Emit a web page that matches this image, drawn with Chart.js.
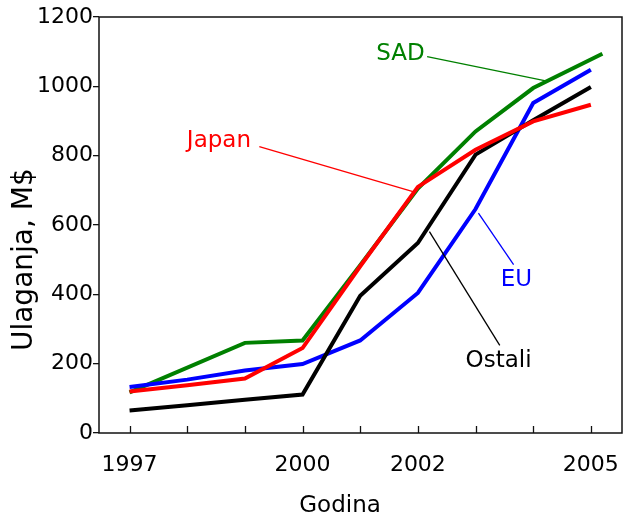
<!DOCTYPE html>
<html>
<head>
<meta charset="utf-8">
<script src="https://cdn.jsdelivr.net/npm/chart.js@4/dist/chart.umd.min.js"></script>
<style>
  html, body { margin: 0; padding: 0; background: #fff; }
</style>
</head>
<body>
<canvas id="chart" width="624" height="515"></canvas>
<script>
// ---- data ----
const years = [1997, 1998, 1999, 2000, 2001, 2002, 2003, 2004, 2005];
const labeledYears = [1997, 2000, 2002, 2005];
const yTicks = [0, 200, 400, 600, 800, 1000, 1200];

// SAD line has fewer vertices and runs a bit past 2005
const sadYears = [1997, 1999, 2000, 2001, 2002, 2003, 2004, 2005.2];
const sadValues = [117, 260, 267, 484, 705, 870, 995, 1094];
const japanValues = [120, 138, 157, 245, 481, 710, 817, 899, 947];
const euValues = [133, 154, 180, 199, 267, 404, 646, 952, 1048];
const ostaliValues = [65, 80, 96, 111, 396, 548, 803, 902, 998];

// label text, where it sits, and its leader line (all in year / M$ units)
const notes = [
  { text: 'SAD',    color: '#008000', at: [2001.70, 1077], from: [2002.16, 1086], to: [2004.26, 1014] },
  { text: 'Japan',  color: '#ff0000', at: [1998.55, 826],  from: [1999.25, 826],  to: [2001.96, 694] },
  { text: 'EU',     color: '#0000ff', at: [2003.71, 423],  from: [2003.05, 634],  to: [2003.66, 486] },
  { text: 'Ostali', color: '#000000', at: [2003.40, 190],  from: [2002.20, 581],  to: [2003.42, 253] }
];

const FONT = "'DejaVu Sans', Verdana, sans-serif";

const pts = (xs, ys) => ys.map((v, i) => ({ x: xs[i], y: v }));

// frame, inward x ticks, labels with leader lines and axis titles
const decorations = {
  id: 'decorations',
  afterDraw(chart) {
    const { ctx, chartArea: a, scales: { x, y } } = chart;
    ctx.save();

    ctx.strokeStyle = '#111';
    ctx.lineWidth = 1.5;
    ctx.strokeRect(a.left, a.top, a.right - a.left, a.bottom - a.top);

    ctx.lineWidth = 1.3;
    years.forEach(yr => {
      const px = Math.round(x.getPixelForValue(yr)) + 0.5;
      ctx.beginPath();
      ctx.moveTo(px, a.bottom);
      ctx.lineTo(px, a.bottom - 7);
      ctx.stroke();
    });

    notes.forEach(n => {
      ctx.strokeStyle = n.color;
      ctx.lineWidth = 1.3;
      ctx.beginPath();
      ctx.moveTo(x.getPixelForValue(n.from[0]), y.getPixelForValue(n.from[1]));
      ctx.lineTo(x.getPixelForValue(n.to[0]), y.getPixelForValue(n.to[1]));
      ctx.stroke();
      ctx.fillStyle = n.color;
      ctx.font = '23px ' + FONT;
      ctx.textAlign = 'center';
      ctx.textBaseline = 'alphabetic';
      ctx.fillText(n.text, x.getPixelForValue(n.at[0]), y.getPixelForValue(n.at[1]));
    });

    // axis titles
    ctx.fillStyle = '#000';
    ctx.font = '23px ' + FONT;
    ctx.textAlign = 'center';
    ctx.textBaseline = 'alphabetic';
    ctx.fillText('Godina', x.getPixelForValue(2000.65), 512);

    ctx.translate(25, y.getPixelForValue(500));
    ctx.rotate(-Math.PI / 2);
    ctx.font = '28px ' + FONT;
    ctx.textBaseline = 'middle';
    ctx.fillText('Ulaganja, M$', 0, 0);

    ctx.restore();
  }
};

const line = (label, data, color) => ({
  label, data,
  borderColor: color,
  borderWidth: 4,
  pointRadius: 0,
  tension: 0,
  fill: false
});

new Chart(document.getElementById('chart'), {
  type: 'line',
  data: {
    // first dataset is drawn on top
    datasets: [
      line('Japan', pts(years, japanValues), '#ff0000'),
      line('Ostali', pts(years, ostaliValues), '#000000'),
      line('EU', pts(years, euValues), '#0000ff'),
      line('SAD', pts(sadYears, sadValues), '#008000')
    ]
  },
  options: {
    responsive: false,
    animation: false,
    devicePixelRatio: 1,
    layout: { padding: { top: 17, right: 2, left: 0, bottom: 0 } },
    plugins: { legend: { display: false }, tooltip: { enabled: false } },
    scales: {
      x: {
        type: 'linear',
        min: 1996.47,
        max: 2005.54,
        afterBuildTicks: s => { s.ticks = years.map(v => ({ value: v })); },
        afterFit: s => { s.height = 82; s.paddingLeft = 0; s.paddingRight = 0; },
        grid: { display: false },
        border: { display: false },
        ticks: {
          autoSkip: false,
          maxRotation: 0,
          padding: 11,
          color: '#000',
          font: { family: FONT, size: 22 },
          callback: v => labeledYears.includes(v) ? String(v) : ''
        }
      },
      y: {
        min: 0,
        max: 1200,
        afterBuildTicks: s => { s.ticks = yTicks.map(v => ({ value: v })); },
        afterFit: s => { s.width = 99; s.paddingTop = 0; s.paddingBottom = 0; },
        grid: { drawOnChartArea: false, drawTicks: true, tickLength: 6, color: '#111', lineWidth: 1.3 },
        border: { display: false },
        ticks: {
          padding: 0,
          color: '#000',
          font: { family: FONT, size: 22 },
          callback: v => String(v)
        }
      }
    }
  },
  plugins: [decorations]
});
</script>
</body>
</html>
